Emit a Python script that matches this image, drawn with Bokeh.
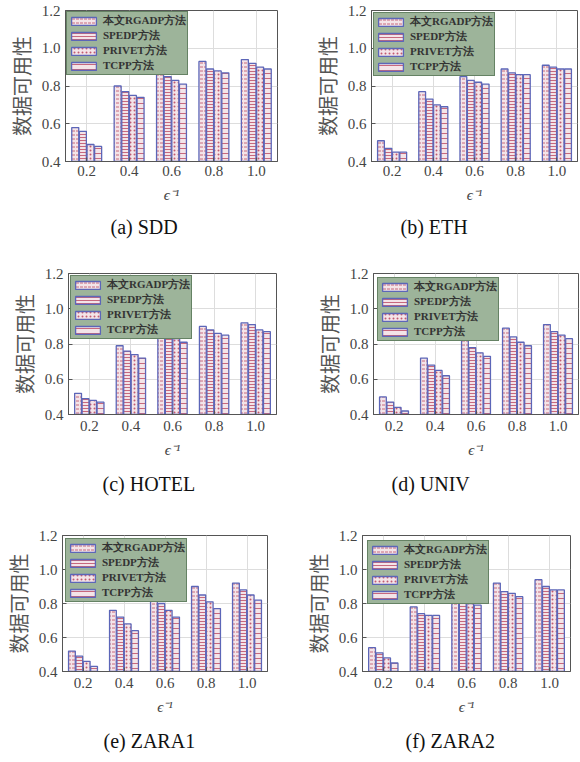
from bokeh.plotting import figure
from bokeh.models import ColumnDataSource, FixedTicker, NumeralTickFormatter, Legend, LegendItem
from bokeh.layouts import column, row
from bokeh.transform import dodge
from bokeh.embed import file_html
from bokeh.resources import INLINE

eps = [0.2, 0.4, 0.6, 0.8, 1.0]
methods = ["本文RGADP方法", "SPEDP方法", "PRIVET方法", "TCPP方法"]

# values per dataset, one list per method (RGADP, SPEDP, PRIVET, TCPP)
sdd_rgadp = [0.58, 0.80, 0.88, 0.93, 0.94]
sdd_spedp = [0.56, 0.77, 0.85, 0.89, 0.92]
sdd_privet = [0.49, 0.75, 0.83, 0.88, 0.90]
sdd_tcpp = [0.48, 0.74, 0.81, 0.87, 0.89]

eth_rgadp = [0.51, 0.77, 0.85, 0.89, 0.91]
eth_spedp = [0.47, 0.73, 0.83, 0.87, 0.90]
eth_privet = [0.45, 0.70, 0.82, 0.86, 0.89]
eth_tcpp = [0.45, 0.69, 0.81, 0.86, 0.89]

hotel_rgadp = [0.52, 0.79, 0.87, 0.90, 0.92]
hotel_spedp = [0.49, 0.76, 0.84, 0.88, 0.91]
hotel_privet = [0.48, 0.74, 0.83, 0.86, 0.88]
hotel_tcpp = [0.47, 0.72, 0.81, 0.85, 0.87]

univ_rgadp = [0.50, 0.72, 0.83, 0.89, 0.91]
univ_spedp = [0.47, 0.68, 0.78, 0.84, 0.87]
univ_privet = [0.44, 0.65, 0.75, 0.81, 0.85]
univ_tcpp = [0.42, 0.62, 0.73, 0.79, 0.83]

zara1_rgadp = [0.52, 0.76, 0.85, 0.90, 0.92]
zara1_spedp = [0.49, 0.72, 0.80, 0.85, 0.88]
zara1_privet = [0.46, 0.68, 0.76, 0.81, 0.85]
zara1_tcpp = [0.43, 0.64, 0.72, 0.77, 0.82]

zara2_rgadp = [0.54, 0.78, 0.87, 0.92, 0.94]
zara2_spedp = [0.51, 0.74, 0.82, 0.87, 0.90]
zara2_privet = [0.48, 0.73, 0.80, 0.86, 0.88]
zara2_tcpp = [0.45, 0.73, 0.79, 0.84, 0.88]

y_ticks = [0.4, 0.6, 0.8, 1.0, 1.2]

hatches = ['"', "-", ".", "-"]
hatch_scales = [4, 3, 4, 5]
offsets = [-0.054, -0.018, 0.018, 0.054]

SERIF = "Liberation Serif"
CJK = "Noto Sans CJK SC"


def panel(caption, series, w, h, bl, br, bt, bb, cap_off, lm, lab_so, cap_so):
    p = figure(width=w, height=h, x_range=(0.1, 1.1), y_range=(0.4, 1.2),
               output_backend="svg", toolbar_location=None,
               min_border_left=bl, min_border_right=br,
               min_border_top=bt, min_border_bottom=bb,
               title=caption, title_location="below")
    p.background_fill_color = "white"
    p.border_fill_color = "white"
    p.outline_line_color = "#555555"
    p.outline_line_width = 1

    src = ColumnDataSource(dict(x=eps, s0=series[0], s1=series[1], s2=series[2], s3=series[3]))
    items = []
    for i in range(4):
        r = p.vbar(x=dodge("x", offsets[i], range=p.x_range), top="s%d" % i, bottom=0.4,
                   width=0.033, source=src,
                   fill_color="#f4e4e8", line_color="#5c66b8", line_width=1.3,
                   hatch_pattern=hatches[i], hatch_color="#c25a70",
                   hatch_scale=hatch_scales[i], hatch_weight=0.9)
        items.append(LegendItem(label=methods[i], renderers=[r]))

    leg = Legend(items=items, location="top_left", margin=lm, padding=1, spacing=0,
                 glyph_width=31, glyph_height=10, label_height=13, label_standoff=4,
                 label_text_font=SERIF, label_text_font_style="bold",
                 label_text_font_size="11px", label_text_line_height=1.0,
                 label_text_color="#333333",
                 background_fill_color="#9db49a", background_fill_alpha=1.0,
                 border_line_color="#2e4f2e", border_line_width=1)
    p.add_layout(leg, "center")

    p.xaxis.ticker = FixedTicker(ticks=eps)
    p.yaxis.ticker = FixedTicker(ticks=y_ticks)
    p.xaxis.formatter = NumeralTickFormatter(format="0.0")
    p.yaxis.formatter = NumeralTickFormatter(format="0.0")
    for ax in (p.xaxis, p.yaxis):
        ax.major_tick_in = 4
        ax.major_tick_out = 0
        ax.minor_tick_line_color = None
        ax.axis_line_color = "#555555"
        ax.major_tick_line_color = "#555555"
        ax.major_label_text_font = SERIF
        ax.major_label_text_font_size = "15px"
        ax.major_label_text_color = "#444444"
    p.xaxis.major_label_standoff = lab_so
    p.yaxis.major_label_standoff = 5

    p.xaxis.axis_label = "ϵ⁻¹"
    p.xaxis.axis_label_text_font = SERIF
    p.xaxis.axis_label_text_font_size = "15px"
    p.xaxis.axis_label_text_font_style = "italic"
    p.xaxis.axis_label_text_color = "#444444"
    p.xaxis.axis_label_standoff = 8

    p.yaxis.axis_label = "数据可用性"
    p.yaxis.axis_label_text_font = CJK
    p.yaxis.axis_label_text_font_size = "20px"
    p.yaxis.axis_label_text_font_style = "normal"
    p.yaxis.axis_label_text_color = "#555555"
    p.yaxis.axis_label_standoff = 3

    p.xgrid.grid_line_color = "#dddddd"
    p.ygrid.grid_line_color = "#dddddd"

    p.title.align = "left"
    p.title.offset = cap_off
    p.title.text_font = SERIF
    p.title.text_font_size = "20px"
    p.title.text_font_style = "normal"
    p.title.text_color = "#111111"
    p.title.standoff = cap_so
    return p


pa = panel("(a)  SDD", [sdd_rgadp, sdd_spedp, sdd_privet, sdd_tcpp], 290, 250, 65, 13, 10, 89, 45, 1, 4, 16)
pb = panel("(b)  ETH", [eth_rgadp, eth_spedp, eth_privet, eth_tcpp], 290, 250, 81, 3, 10, 88, 29, 2, 4, 16)
pc = panel("(c)  HOTEL", [hotel_rgadp, hotel_spedp, hotel_privet, hotel_tcpp], 290, 255, 68, 14, 22, 87, 34, 2, 6, 21)
pd = panel("(d)  UNIV", [univ_rgadp, univ_spedp, univ_privet, univ_tcpp], 290, 255, 83, 2, 23, 89, 18, 4, 6, 21)
pe = panel("(e)  ZARA1", [zara1_rgadp, zara1_spedp, zara1_privet, zara1_tcpp], 290, 257, 62, 23, 30, 85, 41, 3, 6, 21)
pf = panel("(f)  ZARA2", [zara2_rgadp, zara2_spedp, zara2_privet, zara2_tcpp], 290, 257, 72, 10, 28, 83, 43, 5, 6, 21)

layout = column(row(pa, pb), row(pc, pd), row(pe, pf))
open("out.html", "w").write(file_html(layout, INLINE))
